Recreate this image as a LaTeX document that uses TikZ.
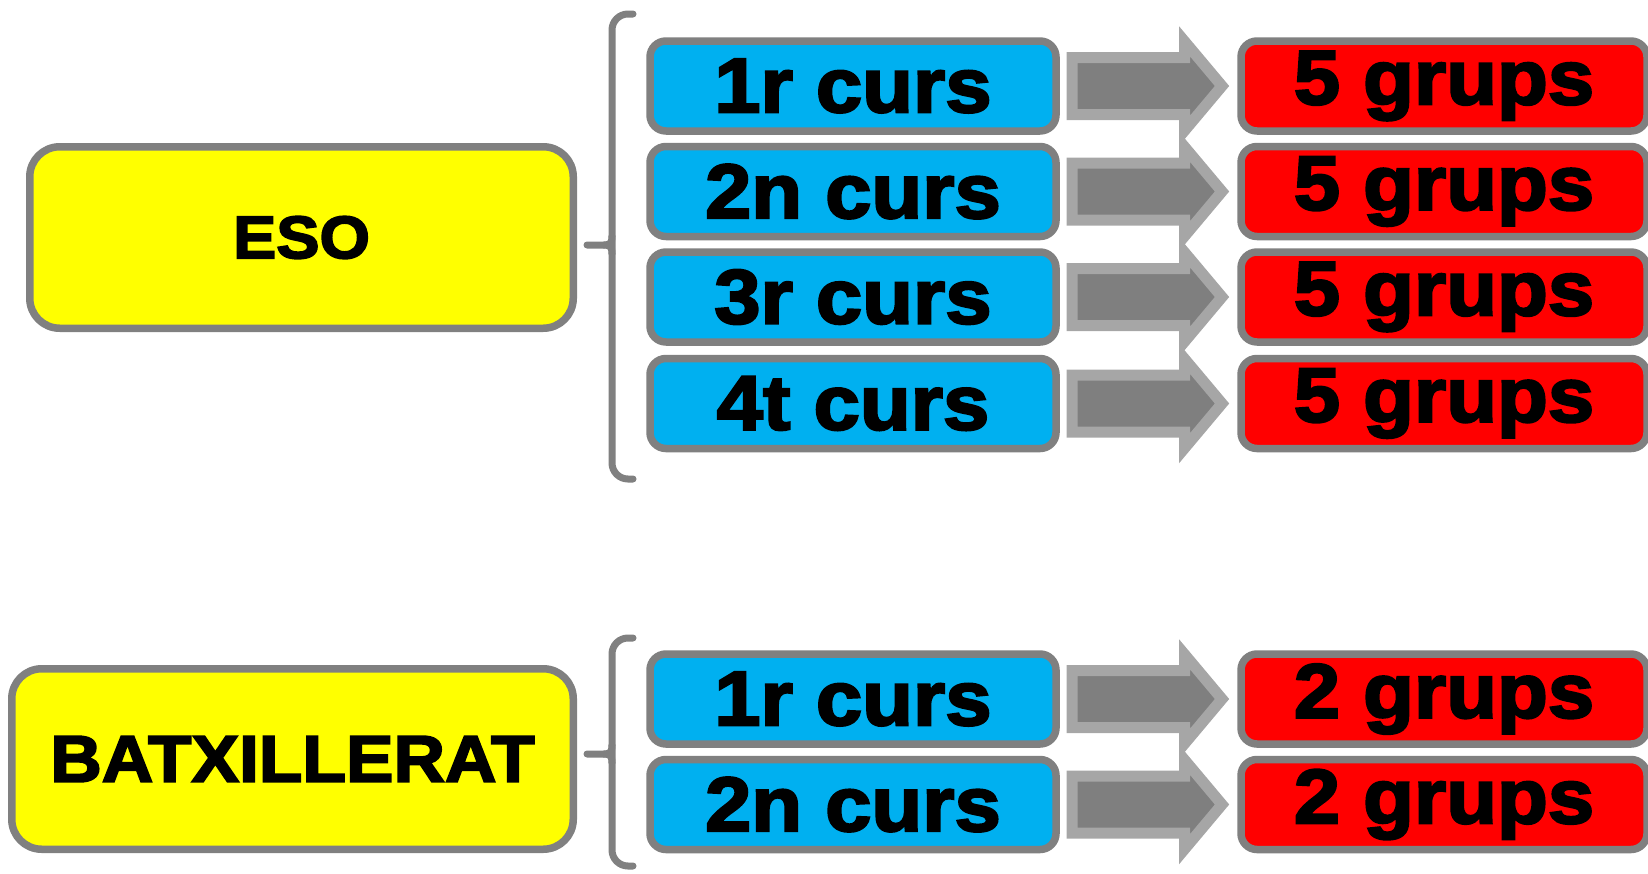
\documentclass[tikz,border=0pt]{standalone}
\usepackage{fontspec}
\usetikzlibrary{shapes.arrows}
\newfontfamily\heavyfont[FakeStretch=1.08,BoldFeatures={FakeBold=3}]{Liberation Sans}
\definecolor{boxgray}{HTML}{808080}
\definecolor{arrowline}{HTML}{A6A6A6}
\definecolor{arrowfill}{HTML}{7F7F7F}
\definecolor{cursblue}{HTML}{00B0F0}
\definecolor{grupred}{HTML}{FF0000}
\definecolor{etapayellow}{HTML}{FFFF00}
\begin{document}
\begin{tikzpicture}[x=0.5pt, y=-0.5pt,
    etapa/.style={draw=boxgray, line width=3.75pt, fill=etapayellow, rounded corners=15pt,
      inner sep=0pt, font=\heavyfont\bfseries\fontsize{30pt}{32pt}\selectfont},
    curs/.style={draw=boxgray, line width=3.75pt, fill=cursblue, rounded corners=8pt,
      minimum width=203pt, minimum height=45pt, inner sep=0pt,
      font=\heavyfont\bfseries\fontsize{38.5pt}{40pt}\selectfont},
    grups/.style={curs, fill=grupred},
    fletxa/.style={single arrow, draw=arrowline, fill=arrowfill, line width=5.5pt, line join=miter,
      minimum height=75pt, inner sep=11.5pt, outer sep=0pt,
      single arrow head extend=8pt, single arrow tip angle=100, anchor=west},
    clau/.style={draw=boxgray, line width=3.5pt, line cap=round}]
  \useasboundingbox (0,0) rectangle (1648,873);

  % etapes
  \node[etapa, minimum width=271.75pt, minimum height=90.75pt] (eso) at (301.5,237.5) {ESO};
  \node[etapa, minimum width=280.75pt, minimum height=90.25pt] (batx) at (292.5,759)
    {\fontsize{33pt}{35pt}\selectfont BATXILLERAT};

  % claus
  \draw[clau, rounded corners=8] (633,14) -- (612,14) -- (612,479) -- (633,479);
  \draw[clau] (587,245) -- (604,245) .. controls (610,245) and (612,243) .. (612,236);
  \draw[clau] (604,245) .. controls (610,245) and (612,247) .. (612,254);
  \draw[clau, rounded corners=8] (633,638) -- (612,638) -- (612,866) -- (633,866);
  \draw[clau] (587,754) -- (604,754) .. controls (610,754) and (612,752) .. (612,745);
  \draw[clau] (604,754) .. controls (610,754) and (612,756) .. (612,763);

  % ESO
  \node[curs] (e1) at (853,86) {1r curs};
  \node[curs] (e2) at (853,191.5) {2n curs};
  \node[curs] (e3) at (853,297) {3r curs};
  \node[curs] (e4) at (853,403.5) {4t curs};
  \foreach \i in {1,...,4} {
    \node[grups] (g\i) at (1444,0 |- e\i) {5 grups};
    \node[fletxa] (f\i) at (1072,0 |- e\i) {};
  }

  % Batxillerat
  \node[curs] (b1) at (853,699) {1r curs};
  \node[curs] (b2) at (853,804.5) {2n curs};
  \foreach \i in {1,2} {
    \node[grups] (h\i) at (1444,0 |- b\i) {2 grups};
    \node[fletxa] (k\i) at (1072,0 |- b\i) {};
  }
\end{tikzpicture}
\end{document}
